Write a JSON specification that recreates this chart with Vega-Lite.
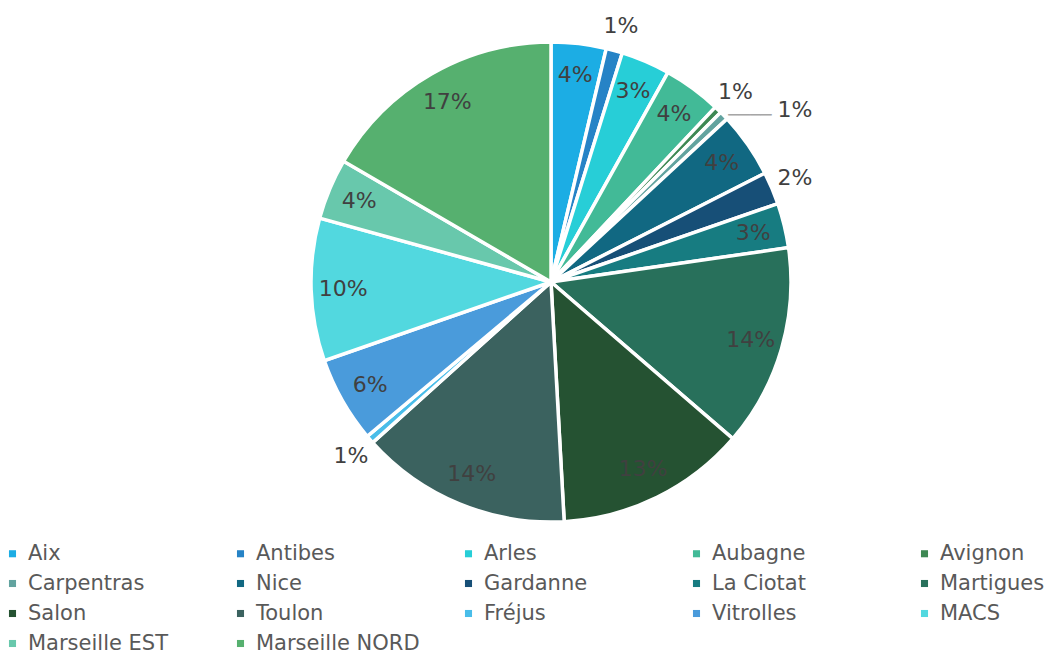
{
  "$schema": "https://vega.github.io/schema/vega-lite/v6.json",
  "width": 1012,
  "height": 564,
  "autosize": "none",
  "padding": {"left": 45, "top": 0, "right": 0, "bottom": 91},
  "background": "white",
  "config": {"view": {"stroke": null}, "font": "DejaVu Sans"},
  "data": {"values": [
    {"idx": 1, "site": "Aix", "value": 3.7, "label": "4%"},
    {"idx": 2, "site": "Antibes", "value": 1.1, "label": "1%"},
    {"idx": 3, "site": "Arles", "value": 3.3, "label": "3%"},
    {"idx": 4, "site": "Aubagne", "value": 3.9, "label": "4%"},
    {"idx": 5, "site": "Avignon", "value": 0.5, "label": "1%"},
    {"idx": 6, "site": "Carpentras", "value": 0.6, "label": "1%"},
    {"idx": 7, "site": "Nice", "value": 4.4, "label": "4%"},
    {"idx": 8, "site": "Gardanne", "value": 2.2, "label": "2%"},
    {"idx": 9, "site": "La Ciotat", "value": 3.0, "label": "3%"},
    {"idx": 10, "site": "Martigues", "value": 13.6, "label": "14%"},
    {"idx": 11, "site": "Salon", "value": 12.8, "label": "13%"},
    {"idx": 12, "site": "Toulon", "value": 14.2, "label": "14%"},
    {"idx": 13, "site": "Fréjus", "value": 0.55, "label": "1%"},
    {"idx": 14, "site": "Vitrolles", "value": 5.8, "label": "6%"},
    {"idx": 15, "site": "MACS", "value": 9.6, "label": "10%"},
    {"idx": 16, "site": "Marseille EST", "value": 4.1, "label": "4%"},
    {"idx": 17, "site": "Marseille NORD", "value": 16.6, "label": "17%"}
  ]},
  "encoding": {
    "theta": {"field": "value", "type": "quantitative", "stack": true},
    "order": {"field": "idx", "type": "quantitative"}
  },
  "layer": [
    {
      "mark": {"type": "arc", "outerRadius": 240, "stroke": "white", "strokeWidth": 3.5},
      "encoding": {
        "color": {
          "field": "site", "type": "nominal",
          "scale": {
            "domain": ["Aix", "Antibes", "Arles", "Aubagne", "Avignon", "Carpentras", "Nice", "Gardanne", "La Ciotat", "Martigues", "Salon", "Toulon", "Fréjus", "Vitrolles", "MACS", "Marseille EST", "Marseille NORD"],
            "range": ["#1CADE4", "#2683C6", "#27CED7", "#42BA97", "#3E8853", "#62A39F", "#116882", "#174F77", "#177C81", "#28705B", "#255232", "#3B625F", "#49BDE9", "#4A9BDB", "#52D8DF", "#68C8AC", "#56B06F"]
          },
          "legend": {
            "title": null,
            "orient": "none",
            "direction": "horizontal",
            "legendX": -43,
            "legendY": 543,
            "columns": 5,
            "gridAlign": "all",
            "columnPadding": 38,
            "rowPadding": 8,
            "padding": 0,
            "symbolType": "square",
            "symbolSize": 50,
            "symbolStrokeWidth": 0,
            "labelOffset": 5,
            "labelFontSize": 21,
            "labelFont": "DejaVu Sans",
            "labelColor": "#595959",
            "labelLimit": 300
          }
        }
      }
    },
    {
      "mark": {"type": "text", "radius": 208, "fontSize": 22, "font": "DejaVu Sans", "color": "#404040"},
      "encoding": {
        "text": {"condition": {"test": "datum.value >= 2.5", "field": "label"}, "value": ""}
      }
    },
    {
      "mark": {"type": "text", "radius": 265, "fontSize": 22, "font": "DejaVu Sans", "color": "#404040"},
      "encoding": {
        "text": {"condition": {"test": "datum.value < 2.5 && datum.site != 'Carpentras'", "field": "label"}, "value": ""}
      }
    },
    {
      "mark": {"type": "text", "radius": 265, "dx": 53, "dy": 12, "fontSize": 22, "font": "DejaVu Sans", "color": "#404040"},
      "encoding": {
        "text": {"condition": {"test": "datum.site == 'Carpentras'", "field": "label"}, "value": ""}
      }
    },
    {
      "mark": {"type": "text", "radius": 265, "dx": 8, "dy": 18, "fontSize": 18, "font": "DejaVu Sans", "color": "#A6A6A6"},
      "encoding": {
        "text": {"condition": {"test": "datum.site == 'Carpentras'", "value": "────"}, "value": ""}
      }
    }
  ]
}
